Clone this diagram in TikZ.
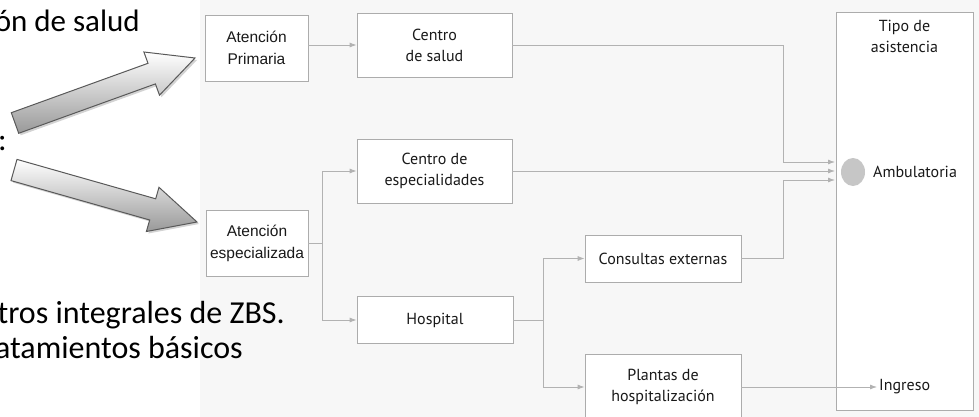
\documentclass[tikz,border=0pt]{standalone}
\usepackage{fontspec}
\setmainfont{Carlito}
\newfontfamily\boxfont{PT Sans}
\newfontfamily\arialfont{Liberation Sans}
\usetikzlibrary{arrows.meta,calc,shadows}
\tikzset{
	box/.style={draw=gray!65,line width=0.8pt,fill=white,align=center,inner sep=0pt,text=black!90,
		font=\boxfont\fontsize{16}{21}\selectfont},
	leftbox/.style={box,font=\arialfont\fontsize{15.5}{22}\selectfont},
	flow/.style={draw=gray!60,line width=0.8pt,-{Latex[length=7pt,width=5pt]}},
	link/.style={draw=gray!60,line width=0.8pt},
	bigarrow/.style={draw=black!65,line width=1pt,top color=white,bottom color=gray!80,
		drop shadow={shadow xshift=2pt,shadow yshift=-2pt,opacity=0.35}},
	slide/.style={font=\fontsize{32}{38}\selectfont,inner sep=0pt},
	label/.style={font=\boxfont\fontsize{16}{21}\selectfont,text=black!90,align=center,inner sep=2pt},
}
\begin{document}
\begin{tikzpicture}[x=1pt,y=-1pt]
	\useasboundingbox (0,0) rectangle (979,417);
	\fill[black!3] (200,0) rectangle (979,417);
	\path (140,32) node [slide,anchor=base east,font=\fontsize{31}{37}\selectfont] (txa) {ón de salud};
	\path (7,150) node [slide,anchor=base east] (txb) {:};
	\path (285,323) node [slide,anchor=base east] (txc) {tros integrales de ZBS.};
	\path (243,358) node [slide,anchor=base east] (txd) {atamientos básicos};
	\draw[bigarrow] (18.7,133.3) -- (155.4,83.9) -- (159.5,95.2) -- (195,58) -- (143.9,52.0) -- (148.0,63.3) -- (11.3,112.7) -- cycle;
	\draw[bigarrow] (11.0,180.6) -- (149.7,220.0) -- (146.4,231.5) -- (197,222) -- (159.0,187.3) -- (155.7,198.8) -- (17.0,159.4) -- cycle;
	\node[leftbox,minimum width=103pt,minimum height=66pt] (prim) at (256.5,48) {Atención\\Primaria};
	\node[leftbox,minimum width=102pt,minimum height=66pt] (aesp) at (257,243) {Atención\\especializada};
	\node[box,minimum width=155pt,minimum height=64pt] (salud) at (434.5,45) {Centro\\de salud};
	\node[box,minimum width=155pt,minimum height=64pt] (espec) at (434.5,171) {Centro de\\especialidades};
	\node[box,minimum width=156pt,minimum height=47pt] (hosp) at (435,320) {Hospital};
	\node[box,minimum width=156pt,minimum height=47pt] (cons) at (663,258.5) {Consultas externas};
	\node[box,minimum width=156pt,minimum height=66pt] (plant) at (663,387) {Plantas de\\hospitalización};
	\node[box,minimum width=137pt,minimum height=398pt] (tipo) at (904.5,211) {};
	\node[label,anchor=north] (tipolbl) at ($(tipo.north)+(0,6)$) {Tipo de\\asistencia};
	\fill[gray!45] (853,172) ellipse (12 and 14);
	\node[label,anchor=west] (amb) at (871,172) {Ambulatoria};
	\node[label,anchor=west] (ingreso) at (877,387) {Ingreso};
	\coordinate (jx) at (783,0);
	\coordinate (a1) at (835,162);
	\coordinate (a2) at (835,171);
	\coordinate (a3) at (835,180);
	\draw[flow] (prim.east |- salud.west) -- (salud.west);
	\draw[flow] (salud.east) -- (salud.east -| jx) |- (a1);
	\draw[flow] (espec.east) -- (a2);
	\draw[flow] (cons.east) -- (cons.east -| jx) |- (a3);
	\draw[link] (aesp.east) -- ++(14,0) coordinate (b1);
	\draw[flow] (b1) |- (espec.west);
	\draw[flow] (b1) |- (hosp.west);
	\draw[link] (hosp.east) -- ++(30,0) coordinate (b2);
	\draw[flow] (b2) |- (cons.west);
	\draw[flow] (b2) |- (plant.west);
	\draw[flow] (plant.east) -- (ingreso.west);
\end{tikzpicture}
\end{document}
